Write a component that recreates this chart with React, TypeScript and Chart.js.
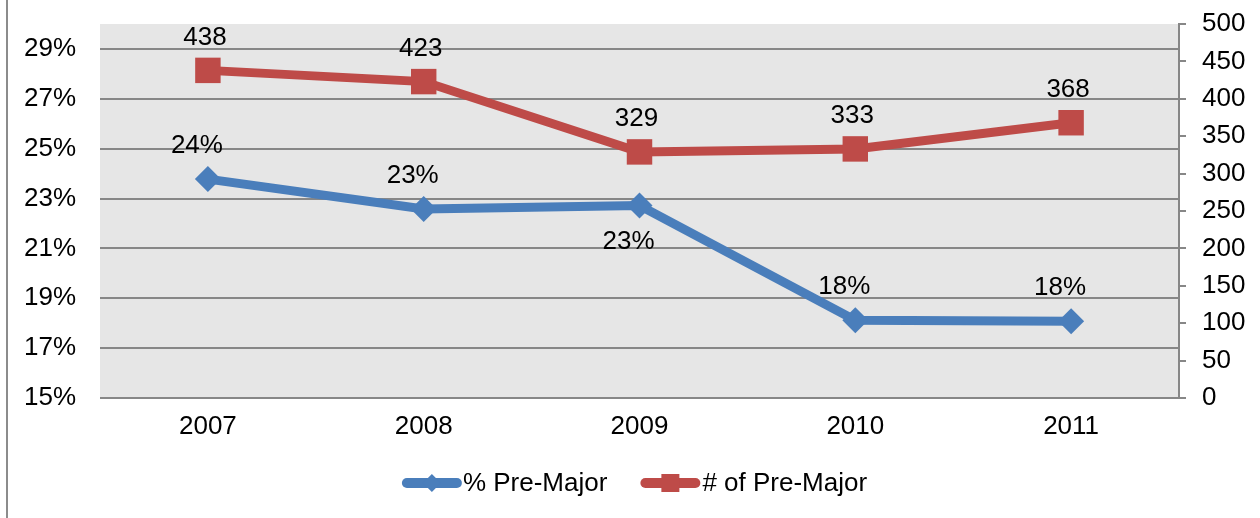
import React, { useEffect, useRef } from "react";
import { Chart, registerables } from "chart.js";

Chart.register(...registerables);

const categories = ["2007", "2008", "2009", "2010", "2011"];
const pctPreMajor = [23.78, 22.58, 22.72, 18.12, 18.08];
const numPreMajor = [438, 423, 329, 333, 368];
const pctLabelPos = ["above", "above", "below", "above", "above"];
const leftTicks = [15, 17, 19, 21, 23, 25, 27, 29];
const seriesNames = ["% Pre-Major", "# of Pre-Major"];

const FONT = '"Liberation Sans", Arial, sans-serif';
const BLUE = "#4a7ebb";
const RED = "#be4b48";
const GRID = "#878787";

const extrasPlugin = {
  id: "extras",
  beforeDraw(chart: any) {
    const { ctx, chartArea } = chart;
    ctx.save();
    ctx.fillStyle = "#ffffff";
    ctx.fillRect(0, 0, chart.width, chart.height);
    ctx.fillStyle = "#e6e6e6";
    ctx.fillRect(chartArea.left, chartArea.top, chartArea.right - chartArea.left, chartArea.bottom - chartArea.top);
    ctx.restore();
  },
  afterDatasetsDraw(chart: any) {
    const { ctx } = chart;
    ctx.save();
    ctx.font = `26px ${FONT}`;
    ctx.fillStyle = "#000000";
    ctx.textAlign = "center";
    ctx.textBaseline = "middle";
    const m0 = chart.getDatasetMeta(0);
    m0.data.forEach((pt: any, i: number) => {
      const off = pctLabelPos[i] === "below" ? 36 : -33;
      ctx.fillText(Math.round(pctPreMajor[i]) + "%", pt.x - 11, pt.y + off);
    });
    const m1 = chart.getDatasetMeta(1);
    m1.data.forEach((pt: any, i: number) => {
      ctx.fillText(String(numPreMajor[i]), pt.x - 3, pt.y - 33);
    });
    ctx.restore();
  },
  afterDraw(chart: any) {
    const { ctx, chartArea } = chart;
    ctx.save();
    ctx.strokeStyle = "#8c8c8c";
    ctx.lineWidth = 2;
    ctx.beginPath();
    ctx.moveTo(7, 0);
    ctx.lineTo(7, chart.height);
    ctx.stroke();

    ctx.font = `26px ${FONT}`;
    const w1 = ctx.measureText(seriesNames[0]).width;
    const w2 = ctx.measureText(seriesNames[1]).width;
    const sample = 60;
    const total = sample + 1 + w1 + 33 + sample + 2 + w2;
    const cx = (chartArea.left + chartArea.right) / 2 - 5;
    let x = cx - total / 2;
    const y = 483;
    const drawSample = (x0: number, color: string, shape: string) => {
      ctx.strokeStyle = color;
      ctx.lineWidth = 10;
      ctx.lineCap = "round";
      ctx.beginPath();
      ctx.moveTo(x0 + 5, y);
      ctx.lineTo(x0 + sample - 5, y);
      ctx.stroke();
      ctx.fillStyle = color;
      const mx = x0 + sample / 2;
      if (shape === "diamond") {
        ctx.beginPath();
        ctx.moveTo(mx, y - 9);
        ctx.lineTo(mx + 9, y);
        ctx.lineTo(mx, y + 9);
        ctx.lineTo(mx - 9, y);
        ctx.closePath();
        ctx.fill();
      } else {
        ctx.fillRect(mx - 9, y - 9, 18, 18);
      }
    };
    ctx.textAlign = "left";
    ctx.textBaseline = "middle";
    drawSample(x, BLUE, "diamond");
    ctx.fillStyle = "#000";
    ctx.fillText(seriesNames[0], x + sample + 1, y + 1);
    x += sample + 1 + w1 + 33;
    drawSample(x, RED, "square");
    ctx.fillStyle = "#000";
    ctx.fillText(seriesNames[1], x + sample + 2, y + 1);
    ctx.restore();
  },
};

export default function App() {
  const ref = useRef<HTMLCanvasElement>(null);
  useEffect(() => {
    if (!ref.current) return;
    const chart = new Chart(ref.current, {
      type: "line",
      data: {
        labels: categories,
        datasets: [
          {
            label: seriesNames[0],
            data: pctPreMajor,
            yAxisID: "y",
            borderColor: BLUE,
            backgroundColor: BLUE,
            borderWidth: 9,
            pointStyle: "rectRot",
            pointRadius: 13,
            pointBorderWidth: 0,
            pointBackgroundColor: BLUE,
            tension: 0,
          },
          {
            label: seriesNames[1],
            data: numPreMajor,
            yAxisID: "y1",
            borderColor: RED,
            backgroundColor: RED,
            borderWidth: 9,
            pointStyle: "rect",
            pointRadius: 18,
            pointBorderWidth: 0,
            pointBackgroundColor: RED,
            tension: 0,
          },
        ],
      },
      options: {
        responsive: false,
        animation: false,
        layout: { padding: { top: 24, left: 0, right: 0, bottom: 0 } },
        plugins: {
          legend: { display: false },
          tooltip: { enabled: false },
        },
        scales: {
          x: {
            offset: true,
            grid: { display: false, drawTicks: false },
            border: { display: false },
            ticks: { color: "#000", font: { family: FONT, size: 26 }, padding: 13 },
            afterFit: (s: any) => {
              s.height = 120;
              s.paddingLeft = 0;
              s.paddingRight = 0;
            },
          },
          y: {
            position: "left",
            min: 15,
            max: 30,
            afterBuildTicks: (s: any) => {
              s.ticks = leftTicks.map((v) => ({ value: v }));
            },
            grid: { color: GRID, lineWidth: 2, drawTicks: false },
            border: { display: false },
            ticks: {
              color: "#000",
              font: { family: FONT, size: 26 },
              padding: 24,
              callback: (v: any) => v + "%",
            },
            afterFit: (s: any) => {
              s.width = 100;
              s.paddingTop = 0;
              s.paddingBottom = 0;
            },
          },
          y1: {
            position: "right",
            min: 0,
            max: 500,
            grid: { drawOnChartArea: false, color: GRID, lineWidth: 2, tickLength: 7 },
            border: { display: true, color: GRID, width: 2 },
            ticks: {
              stepSize: 50,
              color: "#000",
              font: { family: FONT, size: 26 },
              padding: 16,
            },
            afterFit: (s: any) => {
              s.width = 81;
              s.paddingTop = 0;
              s.paddingBottom = 0;
            },
          },
        },
      },
      plugins: [extrasPlugin],
    } as any);
    return () => chart.destroy();
  }, []);
  return (
    <div style={{ position: "fixed", left: 0, top: 0, width: 1260, height: 518 }}>
      <canvas ref={ref} width={1260} height={518} style={{ display: "block" }} />
    </div>
  );
}
